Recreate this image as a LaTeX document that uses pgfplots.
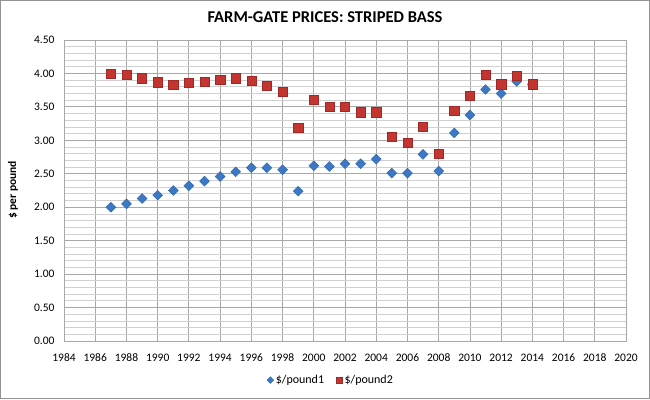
\documentclass[border=0pt]{standalone}
\usepackage{pgfplots}
\pgfplotsset{compat=1.18}
\usepackage{fontspec}
\setmainfont{Carlito}
\definecolor{bluem}{HTML}{3C78C3}
\definecolor{bluee}{HTML}{2E64AA}
\definecolor{redm}{HTML}{C33531}
\definecolor{rede}{HTML}{A02826}
\definecolor{majgrid}{HTML}{A8A8A8}
\definecolor{mingrid}{HTML}{D0D0D0}
\begin{document}
\begin{tikzpicture}[x=1pt,y=1pt]
\draw[draw=gray!85, line width=1.2pt, fill=white] (0.6,0.6) rectangle (649.4,398.4);
\begin{axis}[at={(64pt,58pt)}, anchor=south west, scale only axis,
  width=562pt, height=301pt,
  xmin=1984, xmax=2020, ymin=0, ymax=4.5,
  xtick={1984,1986,...,2020}, ytick={0,0.5,1,1.5,2,2.5,3,3.5,4,4.5},
  minor x tick num=1, minor y tick num=4,
  grid=both,
  major grid style={draw=majgrid, line width=0.8pt},
  minor grid style={draw=mingrid, line width=0.8pt},
  axis line style={draw=majgrid, line width=0.8pt},
  tick style={draw=none},
  major tick length=0pt, minor tick length=0pt,
  /pgf/number format/assume math mode=true,
  xticklabel style={/pgf/number format/1000 sep={}, font=\fontsize{11.5}{13}\selectfont, yshift=-9.5pt},
  yticklabel style={/pgf/number format/fixed, /pgf/number format/fixed zerofill, /pgf/number format/precision=2, font=\fontsize{11.5}{13}\selectfont, xshift=-6pt},
  legend style={at={(axis description cs:0.475,-0.13)}, anchor=center, draw=none, fill=none,
    legend columns=2, font=\fontsize{12}{14}\selectfont},
  legend cell align=left,
  clip=false,
]
\addplot[forget plot, only marks, mark=square*, mark size=3.5pt, mark options={rotate=45, fill=bluem, draw=bluee, line width=0.4pt}]
coordinates {
(1987,2.00) (1988,2.05) (1989,2.13) (1990,2.18) (1991,2.25) (1992,2.32) (1993,2.39)
(1994,2.46) (1995,2.53) (1996,2.59) (1997,2.59) (1998,2.56) (1999,2.24) (2000,2.62)
(2001,2.61) (2002,2.65) (2003,2.65) (2004,2.72) (2005,2.51) (2006,2.51) (2007,2.79)
(2008,2.54) (2009,3.11) (2010,3.38) (2011,3.76) (2012,3.70) (2013,3.88) (2014,3.84)
};
\addplot[forget plot, only marks, mark=square*, mark size=4.6pt, mark options={fill=redm, draw=rede, line width=0.4pt}]
coordinates {
(1987,4.00) (1988,3.98) (1989,3.93) (1990,3.87) (1991,3.83) (1992,3.86) (1993,3.88)
(1994,3.91) (1995,3.93) (1996,3.89) (1997,3.82) (1998,3.73) (1999,3.19) (2000,3.61)
(2001,3.50) (2002,3.50) (2003,3.42) (2004,3.42) (2005,3.06) (2006,2.96) (2007,3.20)
(2008,2.80) (2009,3.44) (2010,3.67) (2011,3.98) (2012,3.84) (2013,3.97) (2014,3.84)
};
\addlegendimage{only marks, mark=square*, mark size=2.4pt, mark options={rotate=45, fill=bluem, draw=bluee, line width=0.3pt}}
\addlegendentry{\$/pound1\rule{10pt}{0pt}}
\addlegendimage{only marks, mark=square*, mark size=3.2pt, mark options={fill=redm, draw=rede, line width=0.3pt}}
\addlegendentry{\$/pound2}
\end{axis}
\node[font=\bfseries\fontsize{16.5}{19}\selectfont] at (325,382) {FARM-GATE PRICES: STRIPED BASS};
\node[font=\bfseries\fontsize{11.5}{13}\selectfont, rotate=90] at (13,209) {\$ per pound};
\end{tikzpicture}
\end{document}
